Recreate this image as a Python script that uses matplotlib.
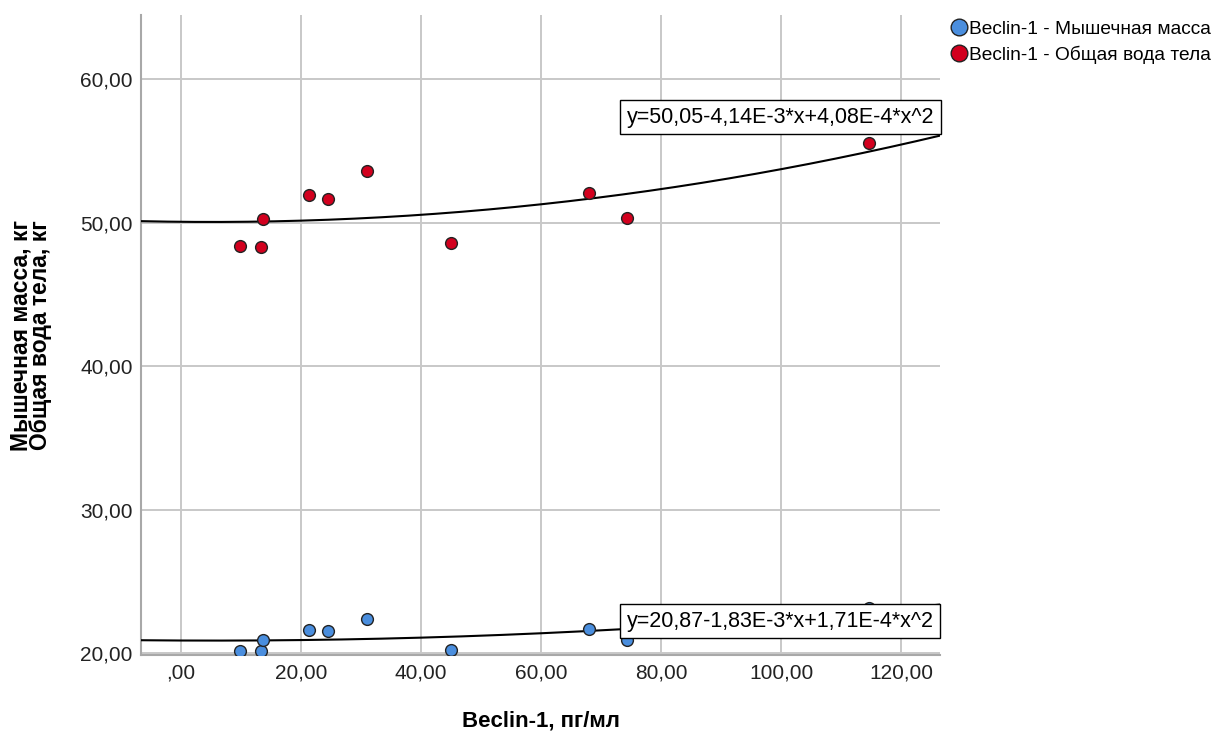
import numpy as np
import matplotlib.pyplot as plt
from matplotlib.lines import Line2D

plt.rcParams['font.family'] = ['Liberation Sans', 'DejaVu Sans']

# data
beclin = [9.8, 13.3, 13.7, 21.3, 24.4, 30.9, 45.0, 68.0, 74.3, 114.7]
muscle = [20.17, 20.12, 20.91, 21.63, 21.51, 22.35, 20.22, 21.70, 20.91, 23.14]
water = [48.36, 48.27, 50.22, 51.89, 51.62, 53.59, 48.55, 52.04, 50.33, 55.56]

# quadratic fit coefficients (c0, c1, c2) from the labels
fit_muscle = [20.87, -1.83e-3, 1.71e-4]
fit_water = [50.05, -4.14e-3, 4.08e-4]
label_muscle = 'y=20,87-1,83E-3*x+1,71E-4*x^2'
label_water = 'y=50,05-4,14E-3*x+4,08E-4*x^2'

xticks = [0, 20, 40, 60, 80, 100, 120]
yticks = [20, 30, 40, 50, 60]

blue = '#4a8ede'
red = '#d2001e'

fig = plt.figure(figsize=(12.19, 7.33), dpi=100)
ax = fig.add_axes([0.1157, 0.1064, 0.6554, 0.8731])

xmin, xmax = -6.7, 126.5
ax.set_xlim(xmin, xmax)
ax.set_ylim(19.86, 64.46)

ax.set_xticks(xticks)
ax.set_xticklabels([('%.2f' % v).replace('.', ',').lstrip('0') if v == 0 else ('%.2f' % v).replace('.', ',') for v in xticks])
ax.set_yticks(yticks)
ax.set_yticklabels([('%.2f' % v).replace('.', ',') for v in yticks])
ax.tick_params(labelsize=15, length=0, pad=6, colors='#222222')
ax.grid(True, color='#c8c8c8', lw=1.4)
ax.set_axisbelow(True)
for s in ['top', 'right']:
    ax.spines[s].set_visible(False)
for s in ['left', 'bottom']:
    ax.spines[s].set_color('#a8a8a8')
    ax.spines[s].set_linewidth(1.5)

# fitted curves
xx = np.linspace(xmin, xmax, 300)
for c in [fit_muscle, fit_water]:
    ax.plot(xx, c[0] + c[1] * xx + c[2] * xx ** 2, color='black', lw=1.5, zorder=3)

ax.scatter(beclin, muscle, s=72, color=blue, edgecolors='#222222', linewidths=1, zorder=4)
ax.scatter(beclin, water, s=72, color=red, edgecolors='#222222', linewidths=1, zorder=4)

box = dict(boxstyle='square,pad=0.3', facecolor='white', edgecolor='black', lw=1)
ax.text(74.3, 57.35, label_water, fontsize=15.5, ha='left', va='center', bbox=box, zorder=5)
ax.text(74.3, 22.2, label_muscle, fontsize=15.5, ha='left', va='center', bbox=box, zorder=5)

ax.set_xlabel('Beclin-1, пг/мл', fontsize=16, fontweight='bold', labelpad=20)
ax.set_ylabel('Мышечная масса, кг\nОбщая вода тела, кг', fontsize=16.5, fontweight='bold',
              labelpad=20, linespacing=0.85)

handles = [Line2D([], [], marker='o', ls='', markersize=12, markerfacecolor=blue, markeredgecolor='#222222'),
           Line2D([], [], marker='o', ls='', markersize=12, markerfacecolor=red, markeredgecolor='#222222')]
fig.legend(handles, ['Beclin-1 - Мышечная масса', 'Beclin-1 - Общая вода тела'],
           loc='upper left', bbox_to_anchor=(0.768, 0.99), frameon=False, fontsize=13.8,
           handletextpad=0.0, labelspacing=0.38, borderaxespad=0.3, handlelength=1.0)

fig.savefig('out.png', dpi=100)
